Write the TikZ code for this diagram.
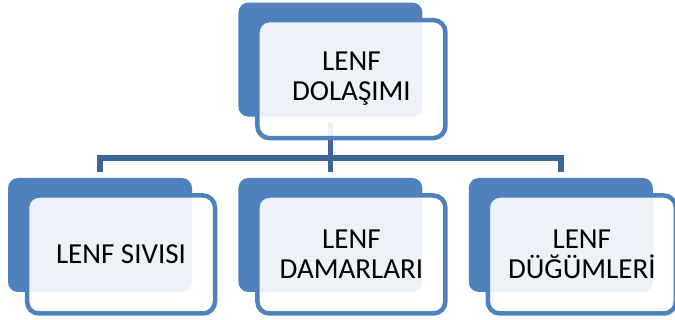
\documentclass[tikz,border=0pt]{standalone}
\usepackage{fontspec}
\setmainfont{Carlito}
\usetikzlibrary{positioning,backgrounds}
\definecolor{boxblue}{RGB}{79,129,189}
\definecolor{lineblue}{RGB}{62,101,152}
\tikzset{
    %Define style for the blue back boxes
    backbox/.style={
           rectangle,
           rounded corners=10pt,
           fill=boxblue,
           minimum width=184pt,
           minimum height=114pt,
           inner sep=0pt},
    %Define style for the framed text boxes
    textbox/.style={
           rectangle,
           rounded corners=12pt,
           draw=boxblue, line width=4.5pt,
           fill=white, fill opacity=0.9, text opacity=1,
           minimum width=188pt,
           minimum height=118pt,
           font=\fontsize{29}{30}\selectfont,
           align=center,
           text=black},
    % Define connector style
    conn/.style={
           draw=lineblue,
           line width=5.5pt,
           shorten <=6pt,
           shorten >=6pt}
}

\begin{document}
\begin{tikzpicture}[x=1pt,y=1pt,node distance=46pt]
\useasboundingbox (0,0) rectangle (675,-320);
 %back boxes
\node[backbox] (sivisiback) at (100,-235) {};
\node[backbox, right=of sivisiback] (damarback) {};
\node[backbox, right=of damarback] (dugumback) {};
\node[backbox, above=61pt of damarback] (dolasimback) {};
 %text boxes
\node[textbox] (dolasim) at ([shift={(21pt,-19.5pt)}]dolasimback) {LENF\\DOLAŞIMI};
\node[textbox] (sivisi) at ([shift={(21pt,-19.5pt)}]sivisiback) {LENF SIVISI};
\node[textbox] (damar) at ([shift={(21pt,-19.5pt)}]damarback) {LENF\\DAMARLARI};
\node[textbox] (dugum) at ([shift={(21pt,-19.5pt)}]dugumback) {LENF\\DÜĞÜMLERİ};
 %connectors
\begin{scope}[on background layer]
\path[conn] (dolasimback.south) -- ++(0pt,-41pt) -| (sivisiback.north);
\path[conn] (dolasimback.south) -- (damarback.north);
\path[conn] (dolasimback.south) -- ++(0pt,-41pt) -| (dugumback.north);
\end{scope}
\end{tikzpicture}
\end{document}
